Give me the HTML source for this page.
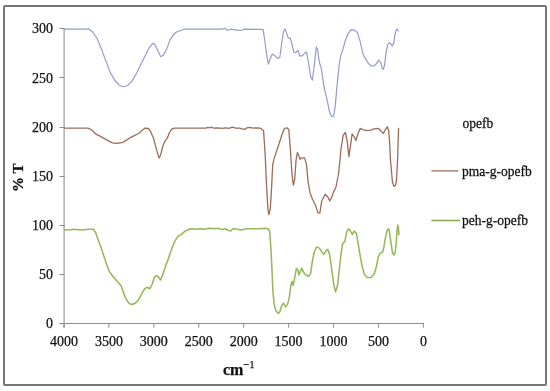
<!DOCTYPE html>
<html><head><meta charset="utf-8"><style>
html,body{margin:0;padding:0;background:#fff;}
body{width:550px;height:391px;overflow:hidden;}
svg{display:block;}
text{font-family:"Liberation Serif","Times New Roman",serif;fill:#111;stroke:#111;stroke-width:0.25px;}
</style></head><body>
<svg width="550" height="391" viewBox="0 0 550 391">
<rect x="0" y="0" width="550" height="391" fill="#fff"/>
<rect x="4" y="6" width="542" height="379" rx="1" fill="none" stroke="#757575" stroke-width="2"/>
<g stroke="#8c8c8c" stroke-width="1" fill="none">
<line x1="64.1" y1="28.4" x2="64.1" y2="327.7" stroke="#999" stroke-width="1.2"/>
<line x1="59.5" y1="323.5" x2="423.9" y2="323.5"/>
<line x1="59.5" y1="323.5" x2="64.5" y2="323.5"/><line x1="59.5" y1="274.5" x2="64.5" y2="274.5"/><line x1="59.5" y1="225.5" x2="64.5" y2="225.5"/><line x1="59.5" y1="176.5" x2="64.5" y2="176.5"/><line x1="59.5" y1="127.5" x2="64.5" y2="127.5"/><line x1="59.5" y1="77.5" x2="64.5" y2="77.5"/><line x1="59.5" y1="28.5" x2="64.5" y2="28.5"/><line x1="64.00" y1="323" x2="64.00" y2="327.7"/><line x1="108.92" y1="323" x2="108.92" y2="327.7"/><line x1="153.85" y1="323" x2="153.85" y2="327.7"/><line x1="198.77" y1="323" x2="198.77" y2="327.7"/><line x1="243.70" y1="323" x2="243.70" y2="327.7"/><line x1="288.62" y1="323" x2="288.62" y2="327.7"/><line x1="333.55" y1="323" x2="333.55" y2="327.7"/><line x1="378.47" y1="323" x2="378.47" y2="327.7"/><line x1="423.40" y1="323" x2="423.40" y2="327.7"/>
</g>
<g font-size="14">
<text x="53" y="328.0" text-anchor="end">0</text><text x="53" y="278.9" text-anchor="end">50</text><text x="53" y="229.8" text-anchor="end">100</text><text x="53" y="180.7" text-anchor="end">150</text><text x="53" y="131.6" text-anchor="end">200</text><text x="53" y="82.5" text-anchor="end">250</text><text x="53" y="33.4" text-anchor="end">300</text>
<text x="64.0" y="345.8" text-anchor="middle">4000</text><text x="108.9" y="345.8" text-anchor="middle">3500</text><text x="153.8" y="345.8" text-anchor="middle">3000</text><text x="198.8" y="345.8" text-anchor="middle">2500</text><text x="243.7" y="345.8" text-anchor="middle">2000</text><text x="288.6" y="345.8" text-anchor="middle">1500</text><text x="333.5" y="345.8" text-anchor="middle">1000</text><text x="378.5" y="345.8" text-anchor="middle">500</text><text x="423.4" y="345.8" text-anchor="middle">0</text>
</g>
<g fill="none" stroke-linejoin="round" stroke-linecap="round">
<polyline points="64.4,29.2 86.2,29.2 88.4,28.7 92.7,32.0 97.1,38.5 100.4,46.2 103.6,54.9 106.9,63.6 110.2,72.4 114.5,80.0 118.9,85.0 123.3,86.8 127.6,85.5 132.0,81.1 136.4,73.5 140.7,64.7 145.1,56.0 149.5,47.3 152.7,43.3 154.9,44.4 158.2,51.6 160.8,56.7 163.6,54.9 166.9,48.4 170.2,39.6 173.5,34.8 176.5,32.0 184.2,29.2 222.4,29.2 224.5,28.3 227.8,30.3 231.1,29.2 235.5,29.8 240.9,30.5 244.2,29.2 263.1,29.4 265.1,43.0 267.2,58.4 268.4,64.0 270.2,58.4 272.3,54.0 274.8,55.8 277.9,58.4 279.9,57.1 281.7,43.0 283.5,31.5 285.1,29.0 286.9,34.1 288.1,37.9 290.2,37.9 292.0,44.3 293.8,52.0 295.8,52.7 297.9,50.2 299.6,55.8 302.2,55.8 304.8,53.2 306.5,52.0 308.6,63.5 310.6,76.3 312.4,80.1 314.2,66.0 316.3,46.9 317.5,49.4 319.3,62.2 321.4,68.6 323.9,86.5 327.0,99.3 329.6,112.1 331.6,116.7 333.7,115.9 335.4,104.4 337.2,83.9 339.0,66.0 340.7,55.8 343.3,48.1 345.3,40.5 347.9,34.1 351.0,29.7 354.3,30.2 357.6,32.8 360.2,41.7 362.7,53.2 365.3,58.4 368.4,63.5 371.4,66.0 373.8,66.0 376.4,63.7 378.7,60.2 380.7,62.2 382.3,68.3 383.5,69.4 384.6,64.5 386.1,52.2 387.6,45.3 389.2,42.7 390.7,43.8 392.2,46.1 393.8,43.0 394.8,35.3 396.1,30.4 397.3,29.2 398.4,31.0" stroke="#949ad0" stroke-width="1.2"/>
<polyline points="64.4,128.1 87.9,128.1 91.6,129.8 96.0,134.2 100.4,136.4 105.8,139.4 112.4,142.9 116.7,143.4 122.2,142.7 126.5,140.1 130.9,137.3 135.3,135.1 138.6,133.5 141.8,130.7 145.1,128.1 148.4,128.5 150.6,131.4 153.4,137.9 156.0,147.7 158.2,155.4 159.3,158.0 160.8,154.3 163.0,145.5 165.2,140.7 167.4,137.9 169.5,132.5 171.7,129.2 174.6,128.1 206.1,128.1 207.7,127.3 210.2,127.8 211.3,127.0 213.5,128.1 217.6,127.8 221.6,128.4 225.7,127.8 229.0,128.4 232.3,127.1 235.6,128.1 239.6,128.1 242.1,128.9 244.6,129.4 247.0,127.8 249.5,127.3 252.7,128.1 256.8,127.8 260.1,128.1 262.6,129.7 263.6,131.1 265.2,155.2 266.5,184.7 267.9,208.8 268.9,214.7 270.3,208.8 271.6,187.4 272.7,164.6 274.3,157.9 277.0,149.9 279.7,141.8 282.3,133.8 284.5,128.4 287.2,127.9 288.8,129.7 290.4,149.9 292.0,174.0 293.3,185.2 294.7,179.3 296.0,160.6 297.4,152.5 298.7,155.2 300.0,159.2 301.9,157.9 304.6,157.9 306.5,164.6 308.1,182.0 310.0,192.7 312.6,199.5 315.3,204.8 318.0,212.9 319.9,212.9 321.7,201.0 325.2,194.3 327.9,197.0 329.8,201.0 331.7,197.0 333.8,191.6 336.0,187.0 338.7,173.0 341.0,149.0 343.2,135.2 345.4,132.5 347.3,141.9 348.9,156.7 350.5,145.9 352.1,133.8 354.0,136.5 355.9,140.5 358.0,133.8 360.2,128.4 363.4,129.8 367.4,130.6 370.0,130.3 374.1,128.9 378.2,128.3 381.2,131.3 383.3,133.4 385.3,129.7 387.3,126.8 388.8,131.3 389.8,145.6 390.4,159.9 391.4,170.1 392.4,182.3 394.1,186.4 395.5,185.4 396.5,180.3 397.6,159.9 398.2,139.5 398.6,128.3" stroke="#9c6c58" stroke-width="1.3"/>
<polyline points="64.6,229.7 69.2,230.1 73.8,229.2 78.4,229.7 83.0,230.1 87.6,229.2 93.4,229.2 95.7,232.7 98.0,239.6 100.3,245.3 102.6,252.3 104.9,259.2 107.2,266.1 109.5,271.8 113.0,276.5 116.5,280.4 121.1,285.7 123.4,292.6 125.7,298.3 128.7,302.9 131.4,304.6 134.9,303.4 138.3,300.2 141.8,293.7 144.8,288.7 147.1,287.3 149.9,288.7 152.2,284.0 154.4,277.2 156.5,275.6 158.7,277.2 160.5,280.0 162.0,276.7 165.3,266.9 168.5,258.2 171.8,248.4 175.1,240.7 177.9,236.4 181.6,234.2 184.9,231.3 188.2,229.8 190.4,228.7 195.8,229.2 200.2,228.7 204.5,229.2 208.9,228.3 213.3,228.7 217.6,228.3 222.0,229.6 225.3,228.7 228.6,230.5 230.7,230.9 232.9,228.7 237.3,229.2 241.6,230.0 246.0,228.7 252.6,228.7 259.1,228.7 265.6,228.3 268.2,229.0 269.7,231.5 270.7,245.6 271.8,266.0 272.8,289.1 274.1,304.4 275.9,310.8 278.4,313.4 279.9,311.6 281.7,305.7 283.5,303.1 285.6,307.0 287.6,304.4 289.4,296.7 290.7,286.5 292.0,281.4 293.2,285.2 294.5,278.8 296.3,268.6 297.9,269.9 298.9,275.0 300.4,271.2 301.7,268.1 303.5,272.4 306.0,275.0 308.6,276.3 310.6,273.7 312.4,260.9 314.2,252.0 316.8,246.9 319.3,248.1 321.9,252.0 323.9,254.5 326.0,250.7 327.8,249.4 329.6,254.5 331.6,268.6 333.7,283.9 335.5,292.0 337.4,286.3 339.2,270.2 341.0,254.1 342.6,243.7 344.9,241.4 346.6,232.2 348.4,228.8 350.2,230.6 352.3,234.5 354.1,231.1 356.4,233.4 358.0,242.6 359.9,254.1 362.2,266.7 364.5,274.8 367.2,277.5 370.9,277.5 374.1,274.3 376.3,267.0 378.2,257.2 380.1,253.3 382.7,252.1 383.9,247.0 385.2,239.3 386.8,231.6 388.0,228.8 389.1,229.7 390.1,236.7 391.4,245.7 392.6,253.3 393.9,254.9 395.2,252.1 396.1,244.4 397.0,231.6 397.7,225.0 398.4,227.8 398.9,234.8" stroke="#96b85a" stroke-width="1.55"/>
<line x1="432" y1="170.9" x2="458" y2="170.9" stroke="#9c6c58" stroke-width="1.3"/>
<line x1="432" y1="220.5" x2="459.5" y2="220.5" stroke="#86aa4a" stroke-width="1.5"/>
</g>
<g font-size="13.5">
<text transform="translate(462.5,127.6) scale(1,1.08)">opefb</text>
<text transform="translate(462,176.2) scale(1,1.08)">pma-g-opefb</text>
<text transform="translate(462,225.3) scale(1,1.08)">peh-g-opefb</text>
</g>
<text x="223" y="375" font-size="16" font-weight="bold">cm<tspan font-size="10.5" dy="-7.5">&#8722;</tspan><tspan font-size="10" font-weight="normal">1</tspan></text>
<text transform="translate(23.3,177.8) rotate(-90)" text-anchor="middle" font-size="15" font-weight="bold">% T</text>
</svg>
</body></html>
